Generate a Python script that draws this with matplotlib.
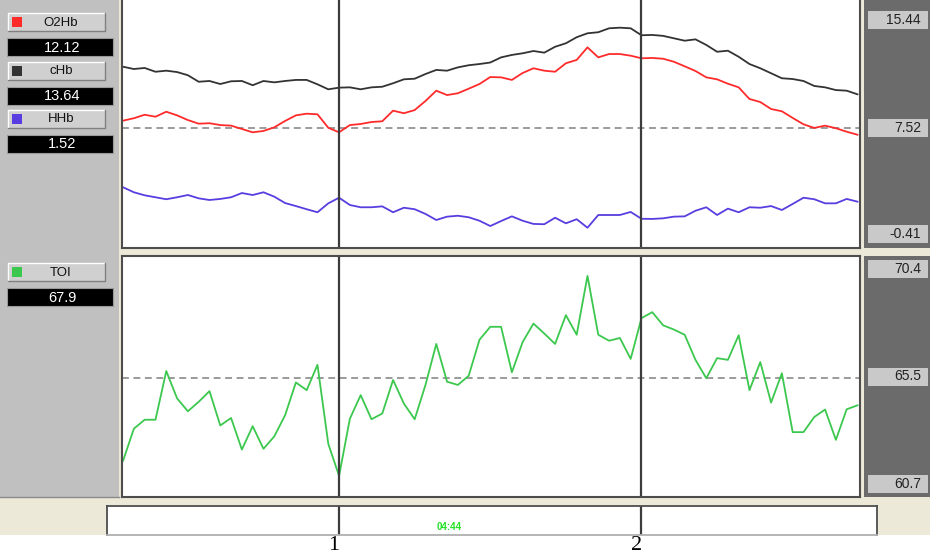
import matplotlib.pyplot as plt
from matplotlib.patches import Rectangle
from matplotlib.transforms import blended_transform_factory, ScaledTranslation

plt.rcParams["font.family"] = ["Liberation Sans", "DejaVu Sans"]

W, H = 930, 555

# one value per sample; cursors sit on samples 20 and 48
o2hb = [8.00, 8.16, 8.39, 8.26, 8.59, 8.35, 8.04, 7.80, 7.83, 7.71,
        7.67, 7.45, 7.23, 7.32, 7.56, 7.98, 8.35, 8.46, 8.42, 7.53,
        7.23, 7.71, 7.78, 7.91, 7.96, 8.66, 8.49, 8.70, 9.30, 9.98,
        9.69, 9.81, 10.11, 10.42, 10.88, 10.86, 10.69, 11.15, 11.46, 11.30,
        11.23, 11.79, 12.01, 12.84, 12.18, 12.40, 12.40, 12.29, 12.12, 12.14,
        12.09, 11.89, 11.59, 11.28, 10.86, 10.73, 10.44, 10.20, 9.43, 9.23,
        8.77, 8.62, 8.18, 7.76, 7.52, 7.67, 7.50, 7.27, 7.07]
chb = [11.56, 11.41, 11.48, 11.23, 11.30, 11.21, 11.00, 10.57, 10.62, 10.42,
       10.60, 10.62, 10.34, 10.62, 10.53, 10.62, 10.69, 10.69, 10.40, 10.07,
       10.18, 10.20, 10.07, 10.20, 10.24, 10.47, 10.73, 10.77, 11.08, 11.35,
       11.30, 11.52, 11.66, 11.74, 11.84, 12.18, 12.34, 12.45, 12.60, 12.49,
       12.88, 13.11, 13.51, 13.77, 13.84, 14.10, 14.14, 14.10, 13.64, 13.66,
       13.60, 13.44, 13.28, 13.37, 13.00, 12.55, 12.62, 12.22, 11.74, 11.46,
       11.13, 10.80, 10.75, 10.62, 10.29, 10.20, 10.02, 9.98, 9.74]
hhb = [3.60, 3.27, 3.07, 2.94, 2.81, 2.94, 3.09, 2.87, 2.76, 2.83,
       2.94, 3.22, 3.09, 3.27, 2.98, 2.56, 2.36, 2.15, 1.95, 2.54,
       2.91, 2.43, 2.28, 2.28, 2.34, 1.95, 2.25, 2.15, 1.84, 1.44,
       1.66, 1.72, 1.62, 1.39, 1.04, 1.37, 1.68, 1.39, 1.18, 1.16,
       1.59, 1.22, 1.49, 0.93, 1.77, 1.77, 1.77, 1.97, 1.52, 1.51,
       1.55, 1.66, 1.68, 2.05, 2.28, 1.77, 2.19, 1.95, 2.28, 2.25,
       2.36, 2.10, 2.50, 2.91, 2.81, 2.54, 2.54, 2.83, 2.65]
toi = [62.16, 63.45, 63.81, 63.81, 65.77, 64.67, 64.15, 64.53, 64.96, 63.58,
       63.88, 62.61, 63.55, 62.64, 63.14, 63.99, 65.31, 65.00, 66.02, 62.84,
       61.55, 63.85, 64.80, 63.83, 64.06, 65.41, 64.46, 63.83, 65.21, 66.86,
       65.34, 65.21, 65.58, 67.03, 67.55, 67.55, 65.72, 66.94, 67.68, 67.28,
       66.86, 68.02, 67.23, 69.60, 67.23, 66.99, 67.10, 66.26, 67.90, 68.14,
       67.61, 67.44, 67.23, 66.22, 65.48, 66.29, 66.22, 67.21, 65.00, 66.13,
       64.50, 65.68, 63.31, 63.31, 63.92, 64.22, 63.00, 64.23, 64.39]
t = list(range(len(toi)))

cursors = [20, 48]
cursor_names = ["1", "2"]
active = 48
time_label = "04:44"

hb_names = ["O2Hb", "cHb", "HHb"]
hb_series = [o2hb, chb, hhb]
hb_colors = ["#ff2b2b", "#333333", "#5a3de0"]
toi_color = "#3cc84e"
hb_scale = [15.44, 7.52, -0.41]
toi_scale = [70.4, 65.5, 60.7]

BEIGE = "#ece9d8"
fig = plt.figure(figsize=(W / 100, H / 100), dpi=100, facecolor=BEIGE)


def px_rect(x0, y0, x1, y1):
    return [x0 / W, 1 - y1 / H, (x1 - x0) / W, (y1 - y0) / H]


# background layer in pixel units for the panels and buttons
bg = fig.add_axes([0, 0, 1, 1])
bg.set_xlim(0, W)
bg.set_ylim(H, 0)
bg.axis("off")
bg.add_patch(Rectangle((0, 535), W, 20, fc="white", ec="none"))
bg.add_patch(Rectangle((0, 0), 119, 497, fc="#c0c0c0", ec="none"))
bg.plot([0, 119], [497, 497], color="#8a8a8a", lw=1)
bg.add_patch(Rectangle((864, 0), 66, 248, fc="#6b6b6b", ec="none"))
bg.add_patch(Rectangle((864, 256), 66, 241, fc="#6b6b6b", ec="none"))


def button(y, name, color, value):
    bg.add_patch(Rectangle((8, y), 97, 18, fc="#d0d0d0", ec="none"))
    bg.plot([8, 8, 105], [y + 18, y, y], color="white", lw=1)
    bg.plot([8, 105, 105], [y + 18, y + 18, y], color="#808080", lw=1)
    bg.add_patch(Rectangle((12, y + 4), 10, 10, fc=color, ec="none"))
    bg.text(61, y + 9.5, name, ha="center", va="center", fontsize=9.5, color="#111111")
    bg.add_patch(Rectangle((7, y + 25), 106, 18, fc="black", ec="#9a9a9a", lw=0.8))
    bg.text(62, y + 34.5, value, ha="center", va="center", fontsize=10.5, color="white")


for y, name, color, series in zip([13, 62, 110], hb_names, hb_colors, hb_series):
    button(y, name, color, f"{series[active]:.2f}")
button(263, "TOI", toi_color, f"{toi[active]:.1f}")


def scale_box(yc, value):
    bg.add_patch(Rectangle((868, yc - 9), 60, 18, fc="#c9c9c9", ec="none"))
    bg.text(921, yc, value, ha="right", va="center", fontsize=10, color="#222222")


for yc, v in zip([20, 127.5, 234], hb_scale):
    scale_box(yc, f"{v:.2f}")
for yc, v in zip([269, 376.5, 483.5], toi_scale):
    scale_box(yc, f"{v:.1f}")

# trend plots
px_per_sample = 10.8
x0 = -0.1
x1 = x0 + (860 - 122) / px_per_sample


def trend_axes(y0, y1):
    ax = fig.add_axes(px_rect(122, y0, 860, y1))
    ax.set_xlim(x0, x1)
    ax.set_xticks([])
    ax.set_yticks([])
    for s in ax.spines.values():
        s.set_color("#4d4d4d")
        s.set_linewidth(1.5)
    return ax


ax1 = trend_axes(0, 248)
ax1.spines["top"].set_visible(False)
per_px = (hb_scale[0] - hb_scale[2]) / 240
ax1.set_ylim(hb_scale[2], hb_scale[2] + 248 * per_px)
ax1.axhline(hb_scale[1], color="#808080", lw=1.1, dashes=(4.5, 3))
for series, color in zip(hb_series, hb_colors):
    ax1.plot(t, series, color=color, lw=1.3)

ax2 = trend_axes(256, 497)
ax2.set_ylim(toi_scale[2], toi_scale[0])
ax2.axhline(toi_scale[1], color="#808080", lw=1.1, dashes=(4.5, 3))
ax2.plot(t, toi, color=toi_color, lw=1.3)

for ax in (ax1, ax2):
    for c in cursors:
        ax.axvline(c, color="#3c3c3c", lw=1.6)

# timeline strip with cursor marks
ax3 = fig.add_axes(px_rect(107, 506, 877, 535))
ax3.set_xlim(x0 - 15 / px_per_sample, x1 + 17 / px_per_sample)
ax3.set_ylim(0, 1)
ax3.set_xticks([])
ax3.set_yticks([])
for side, s in ax3.spines.items():
    s.set_color("#4d4d4d" if side != "bottom" else "#b0b0b0")
    s.set_linewidth(1.3)
for c in cursors:
    ax3.axvline(c, color="#3c3c3c", lw=1.6)
ax3.text(0.444, 0.26, time_label, transform=ax3.transAxes, ha="center", va="center",
         fontsize=7, fontweight="bold", color="#22e022")

tr = blended_transform_factory(ax3.transData, fig.transFigure)
for c, name in zip(cursors, cursor_names):
    ax3.text(c, 1 - 545.5 / H, name, ha="center", va="center", fontsize=16,
             family="Liberation Serif", color="black",
             transform=tr + ScaledTranslation(-5 / 100, 0, fig.dpi_scale_trans),
             clip_on=False)

fig.savefig("out.png", dpi=100, facecolor=BEIGE)
